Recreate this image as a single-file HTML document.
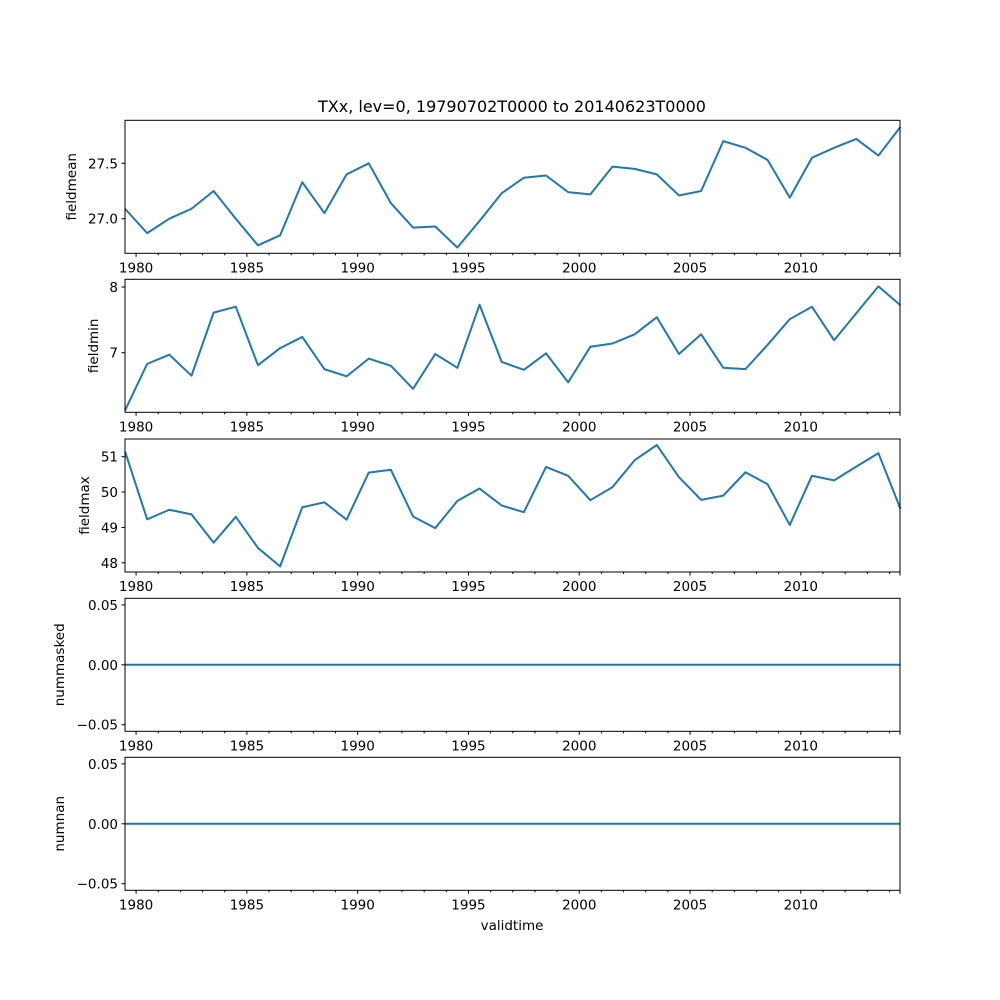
<!DOCTYPE html>
<html><head><meta charset="utf-8"><style>
html,body{margin:0;padding:0;background:#fff;}
svg{display:block;font-family:"DejaVu Sans","Liberation Sans",sans-serif;}
</style></head><body>
<svg id="chart" width="1000" height="1000" viewBox="0 0 1000 1000">
<text x="512" y="112" font-size="16" text-anchor="middle">TXx, lev=0, 19790702T0000 to 20140623T0000</text>
<text x="512" y="930" font-size="13.5" text-anchor="middle">validtime</text>
</svg>
<script>
const years = [1979,1980,1981,1982,1983,1984,1985,1986,1987,1988,1989,1990,1991,1992,1993,1994,1995,1996,1997,1998,1999,2000,2001,2002,2003,2004,2005,2006,2007,2008,2009,2010,2011,2012,2013,2014];
const fieldmean = [27.09,26.87,27.0,27.09,27.25,27.0,26.76,26.85,27.33,27.05,27.40,27.50,27.14,26.92,26.93,26.74,26.98,27.23,27.37,27.39,27.24,27.22,27.47,27.45,27.40,27.21,27.25,27.70,27.64,27.53,27.19,27.55,27.64,27.72,27.57,27.83];
const fieldmin = [6.12,6.83,6.97,6.65,7.61,7.70,6.81,7.07,7.24,6.75,6.64,6.91,6.80,6.45,6.98,6.77,7.73,6.86,6.74,6.99,6.55,7.09,7.14,7.28,7.54,6.98,7.28,6.77,6.75,7.12,7.51,7.70,7.19,7.60,8.01,7.72];
const fieldmax = [51.15,49.23,49.50,49.37,48.57,49.30,48.42,47.90,49.57,49.71,49.22,50.55,50.63,49.31,48.98,49.75,50.10,49.62,49.43,50.71,50.46,49.77,50.14,50.90,51.33,50.42,49.78,49.90,50.56,50.22,49.07,50.46,50.33,50.72,51.10,49.52];
const nummasked = [0,0,0,0,0,0,0,0,0,0,0,0,0,0,0,0,0,0,0,0,0,0,0,0,0,0,0,0,0,0,0,0,0,0,0,0,0];
const numnan = [0,0,0,0,0,0,0,0,0,0,0,0,0,0,0,0,0,0,0,0,0,0,0,0,0,0,0,0,0,0,0,0,0,0,0,0,0];
const majorYears = [1980,1985,1990,1995,2000,2005,2010];
const meanTicks = [27.0,27.5];
const minTicks = [7,8];
const maxTicks = [48,49,50,51];
const zeroTicks = [-0.05,0.0,0.05];

const NS = "http://www.w3.org/2000/svg";
const svg = document.getElementById('chart');
const X0 = 125, X1 = 900, T0 = 1979.5, T1 = 2014.475;
function xs(t){ return X0 + (t - T0) / (T1 - T0) * (X1 - X0); }
function mk(tag, attrs, parent){ const e = document.createElementNS(NS, tag); for (const k in attrs) e.setAttribute(k, attrs[k]); (parent||svg).appendChild(e); return e; }

const panels = [
  {name:'fieldmean', data:fieldmean, top:120.3, lo:26.688, hi:27.888, ticks:meanTicks, fmt:v=>v.toFixed(1)},
  {name:'fieldmin', data:fieldmin, top:279.3, lo:6.093, hi:8.117, ticks:minTicks, fmt:v=>String(v)},
  {name:'fieldmax', data:fieldmax, top:439.0, lo:47.74, hi:51.50, ticks:maxTicks, fmt:v=>String(v)},
  {name:'nummasked', data:nummasked, top:598.3, lo:-0.0555, hi:0.0555, ticks:zeroTicks, fmt:v=>v.toFixed(2).replace('-','\u2212')},
  {name:'numnan', data:numnan, top:757.3, lo:-0.0555, hi:0.0555, ticks:zeroTicks, fmt:v=>v.toFixed(2).replace('-','\u2212')}
];
const H = 133;

panels.forEach(p => {
  const g = mk('g', {});
  
  
  const bottom = p.top + H;
  const ys = v => bottom - (v - p.lo) / (p.hi - p.lo) * H;
  // line
  const pts = years.map((y,i) => xs(y + 0.5) .toFixed(2) + ',' + ys(p.data[i]).toFixed(2)).join(' ');
  const line = mk('polyline', {points: pts, fill:'none', stroke:'#1f77b4', 'stroke-width':2, 'stroke-linejoin':'round'}, g);
  
  
  // frame
  const fr = mk('rect', {x:X0, y:p.top, width:X1-X0, height:H, fill:'none', stroke:'#000', 'stroke-width':1}, g);
  
  
  // y ticks
  p.ticks.forEach(v => {
    const y = ys(v);
    mk('line', {x1:X0-3.5, x2:X0, y1:y, y2:y, stroke:'#000', 'stroke-width':1}, g);
    const t = mk('text', {x:X0-7, y:y+5, 'font-size':13.5, 'text-anchor':'end'}, g);
    t.textContent = p.fmt(v);
    
    
  });
  // x ticks
  for (let yr = 1980; yr <= 2014; yr++) {
    const x = xs(yr);
    const major = majorYears.includes(yr);
    mk('line', {x1:x, x2:x, y1:bottom, y2:bottom + (major ? 3.5 : 2), stroke:'#000', 'stroke-width':1}, g);
  }
  mk('line', {x1:X1, x2:X1, y1:bottom, y2:bottom + 3.5, stroke:'#000', 'stroke-width':1}, g);
  majorYears.forEach(yr => {
    const t = mk('text', {x:xs(yr), y:bottom + 19, 'font-size':13.5, 'text-anchor':'middle'}, g);
    t.textContent = yr;
    
    
  });
  // y label
  const lx = p.name.startsWith('num') ? 64 : (p.name === 'fieldmean' ? 76 : (p.name==='fieldmin'?98:89));
  const yl = mk('text', {x:lx, y:p.top + H/2, 'font-size':13.5, 'text-anchor':'middle', transform:'rotate(-90 ' + lx + ' ' + (p.top + H/2) + ')'}, g);
  yl.textContent = p.name;
  
  
});
</script>
</body></html>
